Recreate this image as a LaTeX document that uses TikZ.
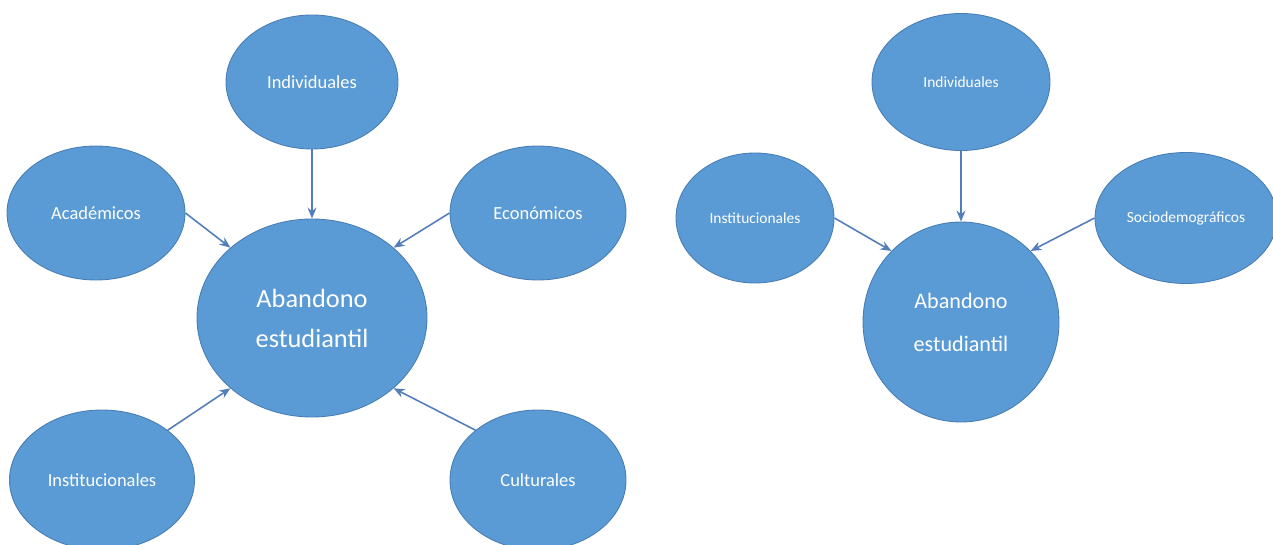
\documentclass[tikz,border=0pt]{standalone}
\usepackage{fontspec}
\setmainfont{Carlito}
\usetikzlibrary{shapes.geometric,arrows.meta}
\definecolor{elfill}{RGB}{91,155,213}
\definecolor{elline}{RGB}{72,125,180}
\definecolor{conline}{RGB}{84,126,184}
\tikzset{
  factor/.style={ellipse,fill=elfill,draw=elline,line width=0.5pt,text=white,inner sep=0pt},
  factorA/.style={factor,font=\fontsize{10.5}{12}\selectfont},
  factorB/.style={factor,font=\fontsize{8.8}{10}\selectfont},
  conn/.style={draw=conline,line width=0.9pt,-{Stealth[length=2.2mm,width=1.8mm]}}
}
\begin{document}
\begin{tikzpicture}
\useasboundingbox (0,0) rectangle (25.46,10.88);
\node[factor,minimum width=4.6cm,minimum height=3.96cm,align=center,
  font=\fontsize{15}{22.8}\selectfont] (abanA) at (6.24,4.52) {Abandono\\estudiantil};
\node[factorA,minimum width=3.44cm,minimum height=2.68cm] (indA) at (6.24,9.24) {Individuales};
\node[factorA,minimum width=3.56cm,minimum height=2.68cm] (acad) at (1.92,6.62) {Académicos};
\node[factorA,minimum width=3.52cm,minimum height=2.68cm] (econ) at (10.76,6.62) {Económicos};
\node[factorA,minimum width=3.7cm,minimum height=2.8cm] (instA) at (2.04,1.28) {Institucionales};
\node[factorA,minimum width=3.52cm,minimum height=2.8cm] (cult) at (10.76,1.28) {Culturales};
\draw[conn] (indA.south) -- (abanA.north);
\draw[conn] (acad.east) -- (abanA.north west);
\draw[conn] (econ.west) -- (abanA.north east);
\draw[conn] (instA.north east) -- (abanA.south west);
\draw[conn] (cult.north west) -- (abanA.south east);
\node[factor,minimum width=3.92cm,minimum height=4cm,align=center,
  font=\fontsize{12.6}{24.5}\selectfont] (abanB) at (19.22,4.44) {Abandono\\estudiantil};
\node[factorB,minimum width=3.56cm,minimum height=2.74cm] (indB) at (19.22,9.24) {Individuales};
\node[factorB,minimum width=3.16cm,minimum height=2.6cm] (instB) at (15.10,6.52) {Institucionales};
\node[factorB,minimum width=3.64cm,minimum height=2.62cm] (socio) at (23.72,6.52) {Sociodemográficos};
\draw[conn] (indB.south) -- (abanB.north);
\draw[conn] (instB.east) -- (abanB.north west);
\draw[conn] (socio.west) -- (abanB.north east);
\end{tikzpicture}
\end{document}
